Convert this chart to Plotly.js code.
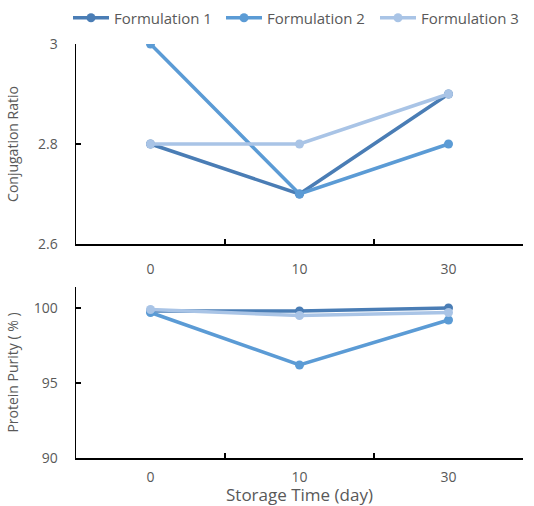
<!DOCTYPE html>
<html>
<head>
<meta charset="utf-8">
<script src="https://cdn.plot.ly/plotly-3.0.1.min.js"></script>
<style>html,body{margin:0;padding:0;background:#fff;}#chart{width:534px;height:506px;}</style>
</head>
<body>
<div id="chart"></div>
<script>
const days = ['0', '10', '30'];
const seriesNames = ['Formulation 1', 'Formulation 2', 'Formulation 3'];
const conjF1 = [2.8, 2.7, 2.9];
const conjF2 = [3.0, 2.7, 2.8];
const conjF3 = [2.8, 2.8, 2.9];
const purityF1 = [99.8, 99.8, 100.0];
const purityF2 = [99.7, 96.2, 99.2];
const purityF3 = [99.9, 99.5, 99.7];
const colors = ['#4a7db5', '#5b9bd5', '#a9c4e6'];

const conj = [conjF1, conjF2, conjF3];
const purity = [purityF1, purityF2, purityF3];
const legendIds = ['legend', 'legend2', 'legend3'];
const traces = [];
for (let i = 0; i < 3; i++) {
  traces.push({
    x: days, y: conj[i], name: seriesNames[i], type: 'scatter', mode: 'lines+markers',
    line: {color: colors[i], width: 3.5}, marker: {color: colors[i], size: 9},
    xaxis: 'x', yaxis: 'y', legend: legendIds[i]
  });
}
for (let i = 0; i < 3; i++) {
  traces.push({
    x: days, y: purity[i], name: seriesNames[i], type: 'scatter', mode: 'lines+markers',
    line: {color: colors[i], width: 3.5}, marker: {color: colors[i], size: 9},
    xaxis: 'x2', yaxis: 'y2', legend: legendIds[i], showlegend: false
  });
}

const gray = '#595959';
const fontFam = '"Open Sans", "Noto Sans", sans-serif';
const xCommon = {
  type: 'category', range: [-0.5, 2.5], tickson: 'boundaries', ticks: 'inside', ticklen: 5,
  tickcolor: '#000', tickwidth: 1.5, showline: true, linecolor: '#000', linewidth: 1.5,
  showgrid: false, zeroline: false, tickfont: {size: 14, color: gray, family: fontFam},
  ticklabelstandoff: 12
};
const yCommon = {
  ticks: 'inside', ticklen: 5, tickcolor: '#000', tickwidth: 1.5, showline: true,
  linecolor: '#000', linewidth: 1.5, showgrid: false, zeroline: false,
  tickfont: {size: 14, color: gray, family: fontFam}, ticklabelstandoff: 14
};

function legendAt(px) {
  return {orientation: 'h', xref: 'container', yref: 'container', x: px / 534, xanchor: 'left',
          y: 1 - 18 / 506, yanchor: 'middle', font: {size: 15, color: gray}, itemwidth: 36,
          bgcolor: 'rgba(0,0,0,0)'};
}

const layout = {
  width: 534, height: 506,
  margin: {l: 76, r: 11, t: 44, b: 48},
  paper_bgcolor: '#fff', plot_bgcolor: '#fff',
  font: {family: fontFam, color: gray, size: 14},
  showlegend: true,
  legend: legendAt(68),
  legend2: legendAt(221),
  legend3: legendAt(375),
  xaxis: Object.assign({}, xCommon, {domain: [0, 1], anchor: 'y'}),
  yaxis: Object.assign({}, yCommon, {domain: [0.5169, 1], anchor: 'x', range: [2.6, 3.0],
    tickvals: [2.6, 2.8, 3.0], ticktext: ['2.6', '2.8', '3'],
    title: {text: 'Conjugation Ratio', font: {size: 14, color: gray}, standoff: 16}}),
  xaxis2: Object.assign({}, xCommon, {domain: [0, 1], anchor: 'y2', ticklabelstandoff: 6,
    title: {text: 'Storage Time (day)', font: {size: 17, color: gray}, standoff: 5}}),
  yaxis2: Object.assign({}, yCommon, {domain: [0, 0.413], anchor: 'x2', range: [90, 101.4],
    tickvals: [90, 95, 100],
    title: {text: 'Protein Purity ( % )', font: {size: 14, color: gray}, standoff: 12}})
};
Plotly.newPlot('chart', traces, layout, {displayModeBar: false, staticPlot: true});
</script>
</body>
</html>
